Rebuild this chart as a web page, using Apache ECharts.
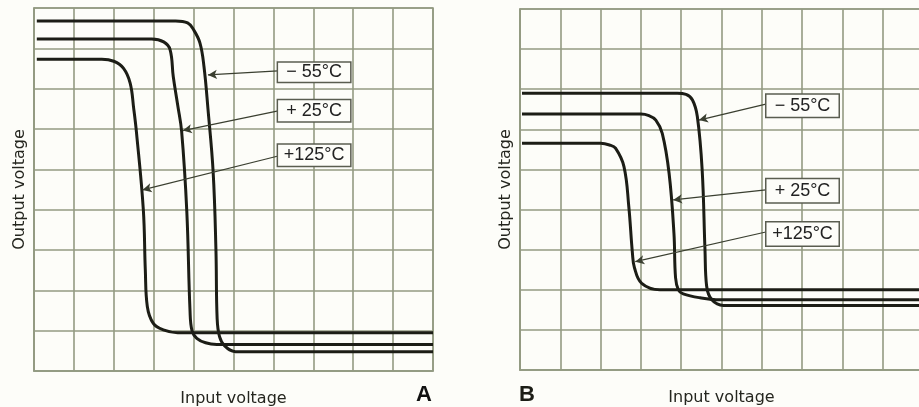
<!DOCTYPE html>
<html>
<head>
<meta charset="utf-8">
<script src="https://cdn.jsdelivr.net/npm/echarts@6/dist/echarts.min.js"></script>
<style>
html,body{margin:0;padding:0;background:#fdfdf9;}
#chart{width:919px;height:407px;}
</style>
</head>
<body>
<div id="chart"></div>
<script>
// ---- data (x: input voltage in grid divisions, y: output voltage in grid divisions)
const xDivisions = 10;
const yDivisions = 9;
const seriesNames = ['− 55°C', '+ 25°C', '+125°C'];

// Panel A
const aMinus55 = [[0.07,8.68],[3.55,8.68],[3.85,8.63],[4.0,8.46],[4.16,8.13],[4.26,7.55],[4.36,6.5],[4.49,4.93],[4.56,3.0],[4.59,1.3],[4.65,0.85],[4.78,0.62],[5.05,0.48],[10,0.48]];
const aPlus25   = [[0.07,8.23],[2.95,8.23],[3.25,8.16],[3.41,7.97],[3.49,7.30],[3.60,6.6],[3.70,5.94],[3.83,3.95],[3.91,1.5],[3.96,1.0],[4.08,0.81],[4.3,0.7],[4.58,0.66],[10,0.66]];
const aPlus125  = [[0.07,7.73],[1.7,7.73],[2.0,7.68],[2.24,7.51],[2.41,7.14],[2.50,6.5],[2.57,5.90],[2.74,4.0],[2.79,2.5],[2.84,1.6],[2.99,1.18],[3.24,1.02],[3.6,0.95],[10,0.95]];

// Panel B
const bMinus55 = [[0.05,6.90],[3.9,6.90],[4.12,6.87],[4.28,6.73],[4.40,6.32],[4.52,4.99],[4.59,3.0],[4.63,2.1],[4.76,1.75],[5.05,1.61],[10,1.61]];
const bPlus25   = [[0.05,6.38],[3.0,6.38],[3.2,6.34],[3.37,6.23],[3.53,5.90],[3.70,4.90],[3.82,3.41],[3.86,2.3],[3.93,2.0],[4.05,1.9],[4.47,1.8],[4.96,1.75],[10,1.75]];
const bPlus125  = [[0.05,5.65],[2.0,5.65],[2.22,5.61],[2.37,5.53],[2.58,5.07],[2.70,4.07],[2.79,2.91],[2.84,2.55],[3.02,2.16],[3.47,2.0],[10,2.0]];

// annotation anchors (label box centre, arrow start, arrow tip) in data units
const annA = [
  {box:[7.02,7.41], from:[6.12,7.44], to:[4.36,7.34], pad:[1,3,0,3]},
  {box:[7.02,6.45], from:[6.12,6.45], to:[3.73,5.96], pad:[2,3,1,3]},
  {box:[7.02,5.35], from:[6.12,5.33], to:[2.72,4.49], pad:[2,3,1,3]}
];
const annB = [
  {box:[7.01,6.59], from:[6.10,6.63], to:[4.44,6.23], pad:[2,3,2,3]},
  {box:[7.01,4.47], from:[6.10,4.49], to:[3.80,4.24], pad:[3,3,2,3]},
  {box:[7.01,3.39], from:[6.10,3.44], to:[2.86,2.70], pad:[3,3,2,3]}
];

const gridColor = '#939a82';
const inkColor = '#1c1d16';

function makeAxis(idx, isX, name, nameGap){
  return {
    type:'value', gridIndex: idx, min:0, max: isX ? xDivisions : yDivisions, interval:1,
    name: name, nameLocation:'middle', nameGap: nameGap,
    nameTextStyle:{fontFamily:'DejaVu Sans', fontSize:16, color:'#25261f'},
    axisLine:{show:true, lineStyle:{color:gridColor, width:1.6}},
    axisTick:{show:false}, axisLabel:{show:false},
    splitLine:{show:true, lineStyle:{color:gridColor, width:1.6}}
  };
}

function makeSeries(idx, name, data, ann){
  return {
    type:'line', name:name, xAxisIndex: idx, yAxisIndex: idx, data:data,
    smooth:0.4, showSymbol:false, symbol:'none',
    lineStyle:{color:inkColor, width:3}, z:3,
    markLine:{
      silent:true, symbol:['none','arrow'], symbolSize:[7,9],
      lineStyle:{color:'#3a3f30', width:1.2, type:'solid'},
      label:{show:false},
      data:[[{coord:ann.from},{coord:ann.to}]]
    },
    markPoint:{
      silent:true, symbol:'circle', symbolSize:0,
      label:{show:true, position:'inside', formatter: name, color:'#222', fontSize:18,
        fontFamily:'Liberation Sans', backgroundColor:'#fdfdf9', borderColor:'#5a5d50', borderWidth:1.5,
        width:66, align:'center', padding:ann.pad},
      data:[{coord: ann.box}]
    }
  };
}

const chart = echarts.init(document.getElementById('chart'), null, {renderer:'canvas'});
chart.setOption({
  backgroundColor:'#fdfdf9',
  animation:false,
  grid:[
    {left:34, top:8, width:399, height:363, show:true, borderColor:gridColor, borderWidth:1.6, containLabel:false, outerBoundsMode:'none'},
    {left:520, top:9, width:403, height:361, show:true, borderColor:gridColor, borderWidth:1.6, containLabel:false, outerBoundsMode:'none'}
  ],
  xAxis:[ makeAxis(0,true,'Input voltage',20), makeAxis(1,true,'Input voltage',20) ],
  yAxis:[ makeAxis(0,false,'Output voltage',6), makeAxis(1,false,'Output voltage',6) ],
  series:[
    makeSeries(0, seriesNames[0], aMinus55, annA[0]),
    makeSeries(0, seriesNames[1], aPlus25, annA[1]),
    makeSeries(0, seriesNames[2], aPlus125, annA[2]),
    makeSeries(1, seriesNames[0], bMinus55, annB[0]),
    makeSeries(1, seriesNames[1], bPlus25, annB[1]),
    makeSeries(1, seriesNames[2], bPlus125, annB[2])
  ],
  graphic:[
    {type:'text', left:416, top:384, style:{text:'A', font:'bold 22px "Liberation Sans"', fill:'#111'}},
    {type:'text', left:519, top:384, style:{text:'B', font:'bold 22px "Liberation Sans"', fill:'#1c1d16'}}
  ]
});
</script>
</body>
</html>
